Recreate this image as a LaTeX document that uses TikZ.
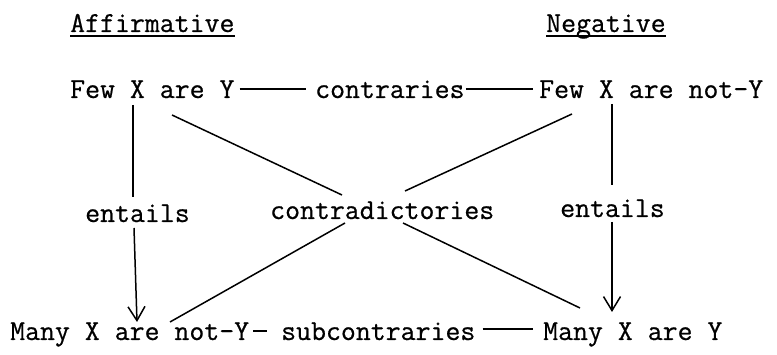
\documentclass[tikz,border=0pt]{standalone}
\usepackage{fontspec}
\newfontfamily\twfont[FakeBold=0.6]{Latin Modern Mono}
\usetikzlibrary{arrows.meta}
\begin{document}
\begin{tikzpicture}[x=1pt,y=-1pt,
  lbl/.style={anchor=base west,inner sep=0pt,font=\fontsize{29}{29}\selectfont\twfont},
  con/.style={line width=1.5pt},
  arr/.style={con,-{Straight Barb[length=14pt,width=17pt]}},
  uline/.style={line width=1.3pt}]
\useasboundingbox (0,0) rectangle (777,355);
% headings
\node[lbl] (aff) at (70,32) {Affirmative};
\node[lbl] (neg) at (546,32) {Negative};
\draw[uline] ([yshift=-4pt]aff.base west) -- ([yshift=-4pt]aff.base east);
\draw[uline] ([yshift=-4pt]neg.base west) -- ([yshift=-4pt]neg.base east);
% top row
\node[lbl] (fxy) at (70,98) {Few X are Y};
\node[lbl] (contr) at (315,98) {contraries};
\node[lbl] (fxny) at (539,98) {Few X are not-Y};
% middle labels
\node[lbl] (entL) at (85,222) {entails};
\node[lbl] (contrad) at (270,219) {contradictories};
\node[lbl] (entR) at (560,217) {entails};
% bottom row
\node[lbl] (mxny) at (10,340) {Many X are not-Y};
\node[lbl] (subc) at (281,340) {subcontraries};
\node[lbl] (mxy) at (543,340) {Many X are Y};
% horizontal connectors
\draw[con] ([shift={(5pt,9pt)}]fxy.base east) -- ([shift={(-9pt,9pt)}]contr.base west);
\draw[con] ([shift={(1pt,9pt)}]contr.base east) -- ([shift={(-6pt,9pt)}]fxny.base west);
\draw[con] ([shift={(4pt,9pt)}]mxny.base east) -- ([shift={(18pt,9pt)}]mxny.base east);
\draw[con] ([shift={(7pt,11pt)}]subc.base east) -- ([shift={(-10pt,11pt)}]mxy.base west);
% vertical connectors (entails)
\coordinate (lv1) at (133,105);
\coordinate (lv2) at (133,197);
\coordinate (lv3) at (134,228);
\coordinate (lv4) at (137,322);
\coordinate (rv1) at (612,104);
\coordinate (rv2) at (612,185);
\coordinate (rv3) at (612,222);
\coordinate (rv4) at (612,312);
\draw[con] (lv1) -- (lv2);
\draw[arr] (lv3) -- (lv4);
\draw[con] (rv1) -- (rv2);
\draw[arr] (rv3) -- (rv4);
% diagonals (contradictories)
\coordinate (d1a) at (172,115);
\coordinate (d1b) at (342,195);
\coordinate (d1c) at (403,223);
\coordinate (d1d) at (580,308);
\coordinate (d2a) at (572,114);
\coordinate (d2b) at (405,191);
\coordinate (d2c) at (345,223);
\coordinate (d2d) at (170,322);
\draw[con] (d1a) -- (d1b);
\draw[con] (d1c) -- (d1d);
\draw[con] (d2a) -- (d2b);
\draw[con] (d2c) -- (d2d);
\end{tikzpicture}
\end{document}
